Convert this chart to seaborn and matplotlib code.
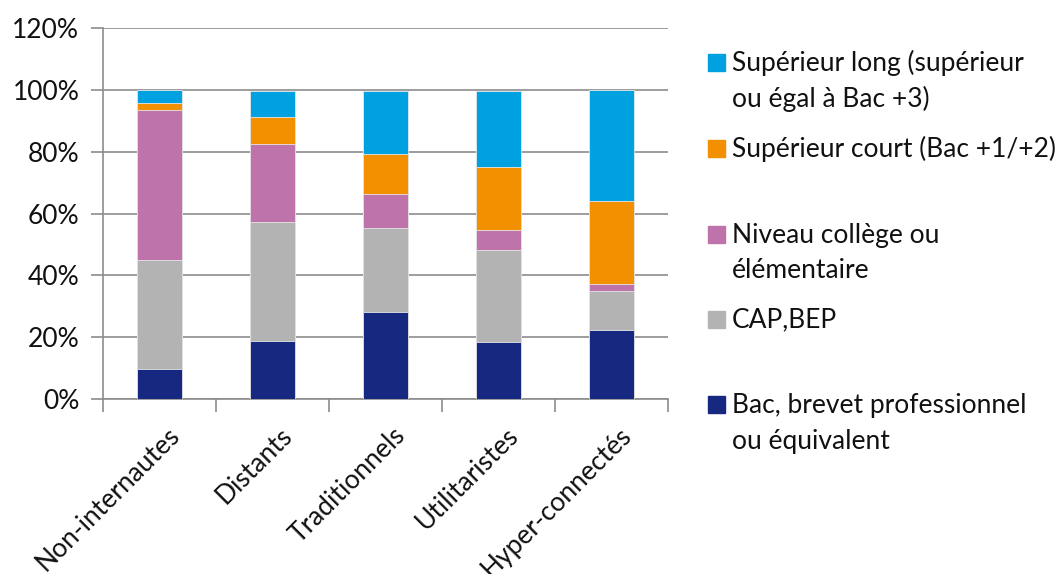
import numpy as np
import pandas as pd
import matplotlib
matplotlib.use("Agg")
import matplotlib.pyplot as plt
import matplotlib.patches as mpatches
import matplotlib.transforms as mtransforms
import seaborn as sns

# ── data (share of each education level, %) ──────────────────────────────────
groups = ["Non-internautes", "Distants", "Traditionnels", "Utilitaristes", "Hyper-connectés"]
bac_pro   = [9.7, 18.6, 28.2, 18.5, 22.4]
cap_bep   = [35.1, 38.5, 27.0, 29.7, 12.6]
college   = [48.7, 25.4, 11.2, 6.5, 2.3]
sup_court = [2.2, 8.7, 12.9, 20.2, 26.7]
sup_long  = [4.3, 8.4, 20.3, 24.6, 36.0]

levels = ["Bac, brevet professionnel\nou équivalent", "CAP,BEP",
          "Niveau collège ou\nélémentaire", "Supérieur court (Bac +1/+2)",
          "Supérieur long (supérieur\nou égal à Bac +3)"]
colors = ["#16287F", "#B3B3B3", "#BF73AB", "#F39000", "#00A1E0"]

df = pd.DataFrame({"groupe": groups, "l0": bac_pro, "l1": cap_bep, "l2": college,
                   "l3": sup_court, "l4": sup_long})
cols = ["l0", "l1", "l2", "l3", "l4"]
cum = df[cols].cumsum(axis=1)

sns.set_theme(style="white")
plt.rcParams["font.family"] = ["Lato", "DejaVu Sans"]
FS = 19

fig = plt.figure(figsize=(10.6, 5.74), dpi=100)
ax = fig.add_axes([103 / 1060, 1 - 399 / 574, 565 / 1060, 371 / 574])

# draw stacked bars from the top layer down
for i in reversed(range(len(cols))):
    sns.barplot(x=df["groupe"], y=cum[cols[i]], color=colors[i], width=0.4,
                saturation=1, edgecolor="#e6e6e6", linewidth=0.6, ax=ax, zorder=3)

ax.set_ylim(0, 120)
ax.set_xlim(-0.5, len(groups) - 0.5)
ax.set_yticks(np.arange(0, 121, 20))
ax.set_yticklabels([f"{v}%" for v in range(0, 121, 20)], fontsize=FS, color="#111")
ax.yaxis.grid(True, color="#8c8c8c", linewidth=1.2, zorder=0)
ax.set_axisbelow(True)
ax.set_xlabel("")
ax.set_ylabel("")
for s in ["top", "right"]:
    ax.spines[s].set_visible(False)
for s in ["left", "bottom"]:
    ax.spines[s].set_color("#8c8c8c")
    ax.spines[s].set_linewidth(1.2)
ax.tick_params(axis="y", left=True, length=9, width=1.2, color="#8c8c8c", pad=8)

# category boundary ticks on the x axis
ax.set_xticks(np.arange(-0.5, len(groups), 1), minor=True)
ax.tick_params(axis="x", which="minor", bottom=True, length=9, width=1.2, color="#8c8c8c")
ax.tick_params(axis="x", which="major", bottom=False, pad=11)
ax.set_xticks(range(len(groups)))
ax.set_xticklabels(groups, rotation=45, ha="right", rotation_mode="anchor",
                   fontsize=FS, color="#111")
offset = mtransforms.ScaledTranslation(0.07, 0, fig.dpi_scale_trans)
for lbl in ax.get_xticklabels():
    lbl.set_transform(lbl.get_transform() + offset)

# legend drawn by hand, Excel-style spacing
leg_rows = [(4, 63), (3, 149), (2, 235), (1, 320), (0, 405)]
for idx, ypix in leg_rows:
    fig.patches.append(mpatches.Rectangle((708 / 1060, 1 - (ypix + 8) / 574), 17 / 1060, 17 / 574,
                                          transform=fig.transFigure, color=colors[idx],
                                          figure=fig))
    for k, line in enumerate(levels[idx].split("\n")):
        fig.text(732 / 1060, 1 - (ypix + 36 * k) / 574, line, fontsize=FS,
                 va="center", ha="left", color="#111")

fig.savefig("out.png", dpi=100)
